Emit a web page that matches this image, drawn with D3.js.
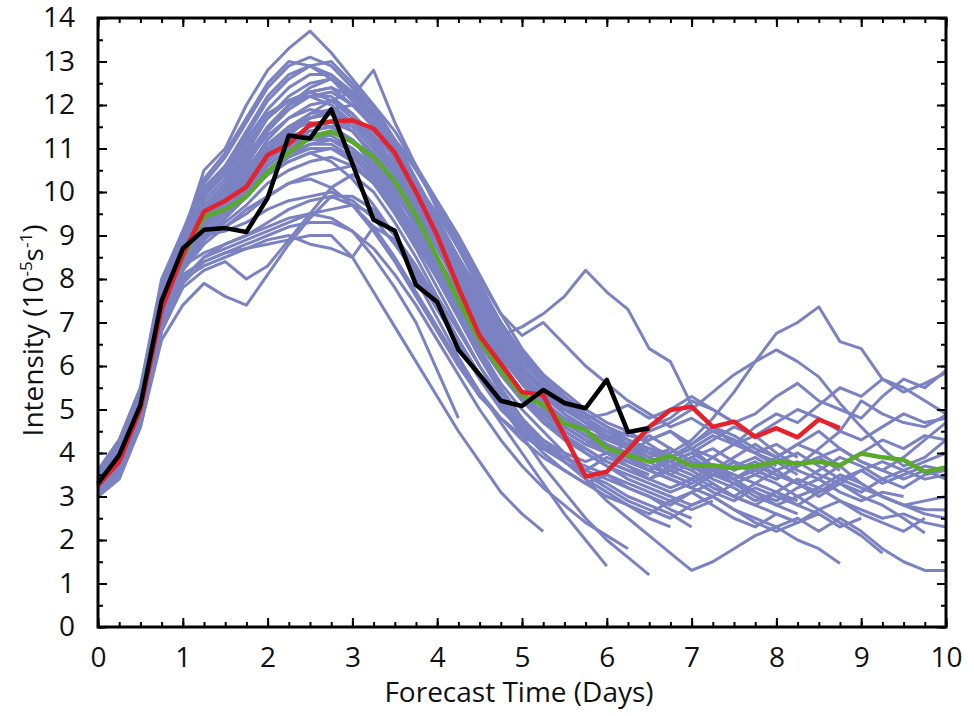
<!DOCTYPE html>
<html>
<head>
<meta charset="utf-8">
<script src="https://cdn.jsdelivr.net/npm/d3@7"></script>
<style>
  body { margin: 0; background: #fff; }
  text { font-family: "Open Sans", "Noto Sans", sans-serif; fill: #111; }
</style>
</head>
<body>
<div id="chart"></div>
<script>
// time step between points (days)
var step = 0.25;
var xTicks = [0, 1, 2, 3, 4, 5, 6, 7, 8, 9, 10];
var yTicks = [0, 1, 2, 3, 4, 5, 6, 7, 8, 9, 10, 11, 12, 13, 14];

// observed (black)
var observed = [3.3, 3.95, 5.1, 7.5, 8.7, 9.13, 9.17, 9.08, 9.86, 11.3, 11.23, 11.9, 10.65, 9.36, 9.11, 7.86, 7.47,
  6.37, 5.8, 5.2, 5.08, 5.45, 5.15, 5.03, 5.68, 4.48, 4.57];
// red line
var redLine = [3.25, 3.8, 5.0, 7.3, 8.55, 9.55, 9.8, 10.12, 10.85, 11.1, 11.55, 11.62, 11.65, 11.46, 10.9, 10.0, 9.0,
  7.8, 6.7, 6.05, 5.4, 5.33, 4.4, 3.46, 3.57, 4.07, 4.6, 4.99, 5.06, 4.6, 4.72, 4.37, 4.57, 4.36, 4.77, 4.57];
// green line (ensemble mean)
var greenLine = [3.3, 3.9, 5.0, 7.4, 8.5, 9.43, 9.6, 9.89, 10.45, 10.9, 11.25, 11.39, 11.15, 10.8, 10.25, 9.45, 8.5,
  7.5, 6.6, 5.9, 5.33, 5.1, 4.68, 4.53, 4.11, 3.95, 3.8, 3.93, 3.7, 3.72, 3.65, 3.7, 3.8, 3.76, 3.8, 3.72, 3.99, 3.9,
  3.84, 3.57, 3.67];

// ensemble members (blue)
var members = [
  [3.5,4.2,5.4,7.9,9.0,10.5,11.0,12.0,12.8,13.3,13.7,13.2,12.6,12.0,11.2,10.2,9.3,8.4,7.5,6.8,6.1,5.6,5.2,4.9,4.6,4.4,4.3,4.5,4.1,3.9,3.6,3.8,3.5,3.3,3.6,3.9,3.7,3.4,3.2,3.5,3.6],
  [3.4,4.1,5.3,7.8,8.9,10.2,10.8,11.6,12.4,12.9,13.1,12.9,12.4,11.8,11.0,10.1,9.2,8.3,7.4,6.6,6.0,5.5,5.0,4.7,4.3,4.5,4.2,3.9,4.1,3.7,3.4,3.6,3.9,4.2,4.0,3.7,3.3,3.0,2.8,2.6,2.5],
  [3.3,4.0,5.2,7.7,8.8,10.0,10.6,11.4,12.2,12.7,12.9,13.0,12.5,11.9,11.2,10.3,9.4,8.5,7.7,6.9,6.2,5.7,5.2,4.8,4.4,4.1,3.8,3.5,3.3],
  [3.4,4.1,5.2,7.6,8.8,9.9,10.5,11.3,12.1,12.6,12.9,12.7,12.2,11.6,10.9,10.0,9.2,8.4,7.6,6.9,6.3,5.8,5.4,5.0,4.7,4.5,4.6,4.8,5.2,5.0,4.7,4.9,5.3,5.6,5.2,5.0,4.8,5.3,5.7,5.5,5.9],
  [3.2,3.9,5.0,7.4,8.5,9.4,9.9,10.6,11.4,12.0,12.4,12.6,12.2,12.8,11.6,10.6,9.6,8.7,7.8,7.0,6.3,5.8,5.3,4.9,4.6,4.3,4.0,3.8,3.6,3.9,4.2,4.0,3.7],
  [3.3,3.9,5.1,7.5,8.7,9.7,10.2,10.9,11.7,12.1,12.3,12.4,12.0,11.5,10.8,10.0,9.2,8.3,7.4,6.6,5.9,5.4,5.0,4.7,4.4,4.2,4.0,3.9,3.7,3.5,3.8,3.6,3.4,3.7,3.9,4.1,3.8,3.6,3.9,4.3,4.7],
  [3.6,4.3,5.5,7.9,9.1,10.1,10.6,11.2,11.8,12.1,12.2,12.0,11.6,11.1,10.4,9.6,8.8,7.9,7.0,6.2,5.6,5.1,4.8,4.5,4.1,3.8,3.6,3.9,3.7,3.4,3.2,2.9,3.1,3.4,3.2,2.9,2.7,2.5,2.6,2.4,2.3],
  [3.1,3.7,4.9,7.3,8.5,9.3,9.7,10.2,10.8,11.3,11.7,11.9,12.0,11.7,11.2,10.6,9.8,9.0,8.1,7.2,6.4,5.8,5.3,4.9,4.6,4.3,4.1,3.9,4.2,4.5,4.3,4.0,3.8,3.5],
  [3.3,4.0,5.1,7.5,8.6,9.5,9.9,10.5,11.1,11.5,11.7,11.8,11.6,11.3,10.8,10.1,9.3,8.5,7.6,6.8,6.0,5.5,5.1,4.8,4.5,4.2,4.4,4.1,3.8,3.5,3.7,3.9,3.6,3.3,3.1,3.4,3.6,3.3,3.5,3.7,3.6],
  [3.2,3.8,5.0,7.3,8.4,9.2,9.6,10.1,10.7,11.1,11.4,11.5,11.6,11.4,10.9,10.2,9.5,8.7,7.8,7.0,6.3,5.7,5.2,4.8,4.5,4.2,4.0,3.8,4.0,4.3,4.6,4.4,4.7,5.0,4.8,4.5,4.3,4.6,4.9,4.7,4.8],
  [3.4,4.0,5.2,7.6,8.7,9.4,9.8,10.3,10.8,11.1,11.3,11.2,10.9,10.4,9.8,9.1,8.3,7.5,6.7,5.9,5.3,4.9,4.6,4.3,4.0,3.8,3.6,3.4,3.2,3.0,3.3,3.1,2.8,2.6],
  [3.2,3.8,4.9,7.2,8.3,9.0,9.4,9.9,10.4,10.7,10.9,11.0,10.8,10.5,10.0,9.4,8.7,7.9,7.1,6.3,5.6,5.1,4.7,4.4,4.1,3.9,4.1,3.8,3.6,3.3,3.0,2.8,3.1,2.9],
  [3.0,3.6,4.8,7.0,8.2,8.9,9.3,9.7,10.2,10.5,10.7,10.8,10.6,10.2,9.6,8.9,8.1,7.3,6.5,5.8,5.2,4.7,4.4,4.1,3.8,3.6,3.4,3.7,3.9,3.6,3.3,3.5,3.8,4.0,3.7,3.4,3.2,3.0,2.8,2.9,3.0],
  [3.3,3.9,5.0,7.4,8.5,9.0,9.2,9.5,9.9,10.2,10.4,10.5,10.6,10.3,9.8,9.1,8.3,7.5,6.7,6.0,5.4,4.9,4.5,4.2,4.4,4.1,3.9,3.6,3.4,3.7,3.5],
  [3.1,3.7,4.8,7.1,8.2,8.8,9.2,9.6,9.9,10.2,10.3,10.1,9.7,9.1,8.4,7.6,6.8,6.0,5.3,4.8,4.4,4.1,3.9,3.6,3.4,3.2,3.0,2.8,3.1,3.3,3.0,2.8,2.6,2.4,2.7,2.9,2.6,2.4,2.2,2.5],
  [3.5,4.1,5.2,7.5,8.6,9.0,9.1,9.3,9.6,9.8,9.9,10.0,9.8,9.4,8.8,8.1,7.3,6.5,5.7,5.0,4.5,4.2,3.9,3.7,3.5,3.3,3.1,2.9,2.7,2.9],
  [3.2,3.8,4.9,7.2,8.3,8.6,8.8,9.0,9.2,9.4,9.5,9.6,9.7,9.5,9.0,8.3,7.5,6.6,5.8,5.1,4.6,4.3,4.0,3.8,4.0,3.7,3.5],
  [3.0,3.5,4.7,6.9,8.0,8.5,8.7,8.9,9.1,9.3,9.5,9.4,9.1,8.5,7.8,7.0,5.9,4.8],
  [3.1,3.6,4.8,7.0,8.0,8.3,8.5,8.7,8.8,8.9,9.0,9.0,8.5,7.7,6.9,6.1,5.3,4.5,3.8,3.1,2.6,2.2],
  [3.0,3.4,4.6,6.6,7.4,7.9,7.6,7.4,8.1,8.8,9.4,9.9,9.7,9.2,8.5,7.7,6.9,6.1,5.4,4.8,4.3,3.9,3.6,3.3,3.5,3.2,3.0,2.7,2.5],
  [3.2,3.7,4.9,7.1,8.1,8.4,8.6,8.7,8.9,9.0,8.8,8.7,8.5,9.2,8.9,8.0,7.1,6.2,5.4,4.7,4.0,3.3,2.6,2.0,1.4],
  [3.3,3.9,5.1,7.4,8.5,9.2,9.6,10.0,10.4,10.7,10.9,10.7,10.3,9.7,9.0,8.2,7.4,6.6,5.8,5.1,4.4,3.7,3.1,2.5,2.0,1.6,1.2],
  [3.4,4.0,5.2,7.6,8.7,9.6,10.0,10.6,11.0,11.3,11.4,11.5,11.2,10.7,10.0,9.2,8.4,7.7,7.1,6.7,6.9,7.2,7.6,8.2,7.7,7.3,6.4,6.1,5.1,4.6,4.2,4.4,4.0,3.7,3.9,3.6],
  [3.5,4.2,5.3,7.7,8.8,9.9,10.4,11.1,11.7,12.1,12.3,12.1,11.7,11.1,10.4,9.6,8.8,8.0,7.2,6.5,5.9,5.4,5.0,4.7,4.5,4.3,4.1,4.0,4.3,4.8,5.4,6.1,6.75,7.0,7.36,6.56,6.4,5.7,5.5,5.2,4.9],
  [3.3,3.9,5.0,7.4,8.6,9.5,10.0,10.7,11.4,11.9,12.2,12.3,12.0,11.5,10.8,9.9,9.0,8.1,7.2,6.4,5.8,5.3,4.9,4.6,4.4,4.2,4.5,4.7,5.0,5.4,5.8,6.1,6.37,6.1,5.75,5.14,4.6,4.1,3.7,3.9,4.3],
  [3.2,3.8,4.9,7.3,8.5,9.3,9.7,10.3,10.9,11.4,11.7,11.8,11.5,11.0,10.4,9.6,8.8,8.0,7.1,6.3,5.6,5.1,4.7,4.4,4.2,4.0,3.8,3.9,4.1,4.4,4.2,4.6,4.9,4.7,5.1,5.5,5.3,5.7,5.4,5.6,5.84],
  [3.3,3.9,5.0,7.5,8.7,9.6,10.1,10.8,11.5,12.0,12.2,12.2,11.8,11.2,10.5,9.7,8.9,8.0,7.1,6.3,5.6,5.0,4.6,4.3,4.1,3.9,3.7,3.5,3.8,3.6,3.9,4.2,3.9,3.6,3.4,3.7,4.0,4.3,4.1,4.4,4.3],
  [3.1,3.7,4.8,7.1,8.3,9.1,9.5,10.0,10.6,11.0,11.2,11.2,10.9,10.4,9.7,8.9,8.1,7.2,6.4,5.6,5.0,4.5,4.0,3.4,2.9,2.5,2.1,1.7,1.3,1.5,1.8,2.1,2.3,2.5,2.2,2.5,2.2,1.8,1.5,1.3,1.3],
  [3.4,4.0,5.1,7.5,8.6,9.4,9.8,10.4,11.0,11.4,11.6,11.5,11.2,10.6,9.9,9.0,8.1,7.2,6.3,5.5,4.8,4.2,3.8,3.4,3.1,2.8,2.5,2.3],
  [3.2,3.8,4.9,7.2,8.4,9.1,9.5,10.0,10.5,10.8,11.0,11.0,10.7,10.2,9.5,8.7,7.8,6.9,6.0,5.2,4.6,4.1,3.8,3.5,3.3,3.0,2.8,2.6,2.3],
  [3.3,3.9,5.0,7.4,8.5,9.3,9.8,10.4,11.0,11.5,11.8,11.9,11.6,11.1,10.4,9.6,8.7,7.8,6.9,6.1,5.4,4.8,4.4,4.0,3.7,3.4,3.2,3.0,2.8,3.0,2.7,2.5,2.3,2.0,1.8,1.46],
  [3.4,4.0,5.2,7.6,8.8,9.8,10.3,11.0,11.7,12.2,12.5,12.6,12.3,11.8,11.1,10.2,9.3,8.4,7.5,6.7,6.0,5.4,4.9,4.5,4.2,3.9,3.6,3.4,3.2,3.5,3.3,3.0,2.8,3.0,2.7,2.4,2.1,1.7],
  [3.2,3.8,5.0,7.3,8.4,9.2,9.6,10.1,10.7,11.1,11.3,11.3,11.0,10.5,9.8,9.0,8.2,7.4,6.6,5.9,5.3,4.8,4.4,4.1,3.8,3.6,3.4,3.2,3.4,3.1,2.9,3.2,3.0,2.8,3.1,3.3,3.0,2.8,2.5,2.16],
  [3.3,3.9,5.0,7.4,8.5,9.4,9.8,10.5,11.2,11.7,12.0,12.1,11.8,11.3,10.6,9.8,9.0,8.1,7.2,6.4,5.7,5.1,4.7,4.4,4.1,3.9,3.6,3.4,3.2,3.5,3.8,3.6,3.4,3.7,4.1,4.5,5.2,4.9,4.7,4.6,4.87],
  [3.0,3.6,4.7,7.0,8.2,8.9,9.4,9.9,10.5,10.9,11.1,11.1,10.8,10.3,9.6,8.8,8.0,7.1,6.2,5.4,4.8,4.3,3.9,3.6,3.9,3.7,3.4,3.6,3.9,4.1,3.8,3.5,3.3,3.0,3.2,3.5,3.3,3.0,2.8,2.7,2.69],
  [3.5,4.1,5.3,7.7,8.9,10.0,10.5,11.2,11.9,12.4,12.7,12.7,12.3,11.7,10.9,10.0,9.1,8.2,7.3,6.5,5.8,5.2,4.8,4.5,4.2,4.0,4.3,4.5,4.2,4.6,4.4,4.1,3.9,4.2,4.5,4.1,3.8,3.6,3.4,3.6,3.4],
  [3.3,3.9,5.0,7.3,8.4,9.2,9.7,10.3,10.9,11.4,11.8,12.1,12.3,12.0,11.4,10.6,9.7,8.8,7.9,7.0,6.2,5.6,5.1,4.7,4.3],
  [3.4,4.0,5.1,7.5,8.7,9.6,10.1,10.8,11.5,12.0,12.3,12.4,12.2,11.8,11.2,10.5,9.7,8.9,8.0,7.2,6.7,7.0,6.5,6.0,5.6,5.2,4.9,4.6,4.8,4.5,4.3,4.0,4.2,3.9],
  [3.2,3.8,4.9,7.3,8.4,9.1,9.5,10.0,10.6,11.0,11.3,11.4,11.2,10.8,10.2,9.5,8.8,8.0,7.2,6.5,5.9,5.4,5.1,4.8,4.9,5.1,4.8,5.0,5.3,5.0,4.7],
  [3.6,4.3,5.5,8.0,9.1,10.3,10.9,11.7,12.5,13.0,12.9,12.6,12.1,11.5,10.7,9.8,8.9,8.0,7.1,6.3,5.6,5.0,4.6,4.3,4.0,3.8,3.6,3.8,4.0,3.7,3.5,3.3,3.6,3.8,3.5,3.3,3.1,3.4,3.6,3.8,4.0],
  [3.1,3.7,4.8,7.2,8.3,9.0,9.4,9.9,10.4,10.8,11.1,11.2,11.0,10.6,10.0,9.3,8.5,7.6,6.8,6.0,5.3,4.7,4.3,4.0,3.7,3.5,3.3,3.1,3.3,3.6,3.4,3.1,2.9,3.2,3.4,3.1,2.9,3.1,3.0],
  [3.0,3.5,4.6,6.8,7.8,8.2,8.4,8.0,8.3,8.9,9.5,10.1,10.4,10.0,9.3,8.5,7.6,6.8,6.0,5.3,4.7,4.2,3.8,3.5,3.2,2.9,2.7,2.5,2.8,3.0,2.7,2.4,2.2,2.4,2.6,2.3,2.5],
  [3.3,3.9,5.0,7.4,8.6,9.6,10.1,10.7,11.3,11.7,11.9,11.8,11.4,10.8,10.1,9.3,8.5,7.7,6.9,6.2,5.6,5.1,4.8,4.5,4.3,4.1,3.9,4.1,3.8,3.6,3.4,3.7,3.5,3.3,3.0,3.3,3.6,3.8,3.6,3.4,3.5],
  [3.4,4.0,5.1,7.5,8.6,9.3,9.7,10.2,10.8,11.2,11.5,11.6,11.4,10.9,10.3,9.5,8.7,7.8,6.9,6.1,5.4,4.9,4.5,4.2,4.0,4.2,3.9,3.7,3.5,3.2,3.0,3.3,3.1,2.8,2.6],
  [3.0,3.5,4.6,6.8,7.9,8.4,8.6,8.8,9.0,9.2,9.3,9.3,9.1,8.7,8.1,7.4,6.6,5.8,5.0,4.3,3.7,3.2,2.8,2.4,2.1,1.8],
  [3.1,3.6,4.7,6.9,8.0,8.5,8.8,9.0,9.3,9.6,9.8,9.9,9.9,9.6,9.0,8.3,7.5,6.6,5.8,5.1,4.5,4.0,3.6,3.3,3.0,2.8,2.6,2.9,3.1,2.8,2.5,2.3,2.6,2.4]
];

var svgWidth = 974;
var svgHeight = 716;
var margin = { top: 18, right: 28, bottom: 89, left: 98 };
var chartWidth = svgWidth - margin.left - margin.right;
var chartHeight = svgHeight - margin.top - margin.bottom;
var fontSize = 28;

var svg = d3.select("#chart")
  .append("svg")
  .attr("width", svgWidth)
  .attr("height", svgHeight);

var chartGroup = svg.append("g")
  .attr("transform", `translate(${margin.left}, ${margin.top})`);

var xLinearScale = d3.scaleLinear().domain([0, 10]).range([0, chartWidth]);
var yLinearScale = d3.scaleLinear().domain([0, 14]).range([chartHeight, 0]);

var line = d3.line()
  .x((d, i) => xLinearScale(i * step))
  .y(d => yLinearScale(d));

// ensemble members
chartGroup.selectAll(".member")
  .data(members)
  .enter()
  .append("path")
  .attr("class", "member")
  .attr("d", line)
  .attr("fill", "none")
  .attr("stroke", "#7b82c2")
  .attr("stroke-width", 3)
  .attr("stroke-linejoin", "round");

// main curves
var mainLines = [
  { values: greenLine, color: "#5aaa2a" },
  { values: redLine, color: "#e5212b" },
  { values: observed, color: "#000000" }
];
chartGroup.selectAll(".main")
  .data(mainLines)
  .enter()
  .append("path")
  .attr("class", "main")
  .attr("d", d => line(d.values))
  .attr("fill", "none")
  .attr("stroke", d => d.color)
  .attr("stroke-width", 4.5)
  .attr("stroke-linejoin", "round");

// minor + major ticks, inward on all four sides
var xMinor = d3.range(0, 10.001, 0.25);
var yMinor = d3.range(0, 14.001, 0.5);

function tickStyle(g) {
  g.select(".domain").remove();
  g.selectAll("line").attr("stroke", "#000").attr("stroke-width", 2);
  g.selectAll("text").attr("font-size", fontSize).attr("fill", "#111")
    .style("font-family", "'Open Sans', 'Noto Sans', sans-serif");
}

chartGroup.append("g")
  .attr("transform", `translate(0, ${chartHeight})`)
  .call(d3.axisBottom(xLinearScale).tickValues(xMinor).tickSize(-5).tickFormat(""))
  .call(tickStyle);
chartGroup.append("g")
  .attr("transform", `translate(0, ${chartHeight})`)
  .call(d3.axisBottom(xLinearScale).tickValues(xTicks).tickSize(-9).tickPadding(20).tickFormat(d3.format("d")))
  .call(tickStyle);
chartGroup.append("g")
  .call(d3.axisTop(xLinearScale).tickValues(xMinor).tickSize(-5).tickFormat(""))
  .call(tickStyle);
chartGroup.append("g")
  .call(d3.axisTop(xLinearScale).tickValues(xTicks).tickSize(-9).tickFormat(""))
  .call(tickStyle);

chartGroup.append("g")
  .call(d3.axisLeft(yLinearScale).tickValues(yMinor).tickSize(-5).tickFormat(""))
  .call(tickStyle);
chartGroup.append("g")
  .call(d3.axisLeft(yLinearScale).tickValues(yTicks).tickSize(-9).tickPadding(23).tickFormat(d3.format("d")))
  .call(tickStyle);
chartGroup.append("g")
  .attr("transform", `translate(${chartWidth}, 0)`)
  .call(d3.axisRight(yLinearScale).tickValues(yMinor).tickSize(-5).tickFormat(""))
  .call(tickStyle);
chartGroup.append("g")
  .attr("transform", `translate(${chartWidth}, 0)`)
  .call(d3.axisRight(yLinearScale).tickValues(yTicks).tickSize(-9).tickFormat(""))
  .call(tickStyle);

// frame
chartGroup.append("rect")
  .attr("width", chartWidth)
  .attr("height", chartHeight)
  .attr("fill", "none")
  .attr("stroke", "#000")
  .attr("stroke-width", 3);

// axis titles
chartGroup.append("text")
  .attr("x", chartWidth / 2 - 3)
  .attr("y", chartHeight + 75)
  .attr("text-anchor", "middle")
  .attr("font-size", fontSize)
  .text("Forecast Time (Days)");

var yTitle = chartGroup.append("text")
  .attr("transform", `translate(${-55}, ${chartHeight / 2 + 8}) rotate(-90)`)
  .attr("text-anchor", "middle")
  .attr("font-size", fontSize);
yTitle.append("tspan").text("Intensity (10");
yTitle.append("tspan").attr("font-size", 17).attr("dy", -11).text("-5");
yTitle.append("tspan").attr("dy", 11).text("s");
yTitle.append("tspan").attr("font-size", 17).attr("dy", -11).text("-1");
yTitle.append("tspan").attr("dy", 11).text(")");
</script>
</body>
</html>
